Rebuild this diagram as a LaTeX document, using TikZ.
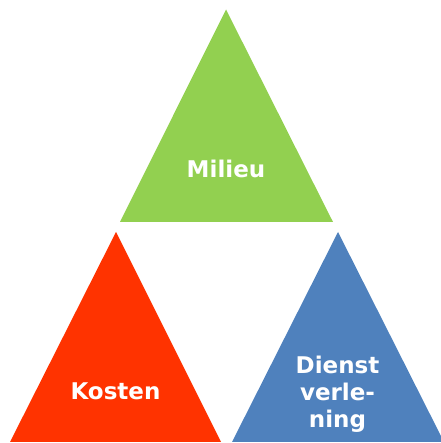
\documentclass[tikz,border=0pt]{standalone}
\usepackage{fontspec}
\setmainfont{DejaVu Sans}
\definecolor{milieugreen}{HTML}{92D050}
\definecolor{kostenred}{HTML}{FF3300}
\definecolor{dienstblue}{HTML}{4F81BD}
\begin{document}
\begin{tikzpicture}[x=1pt,y=1pt,
  tri/.style={draw=none},
  lbl/.style={text=white,font=\fontsize{23}{27}\selectfont\bfseries,inner sep=0pt,align=center}]
\useasboundingbox (0,0) rectangle (440,443);
% green triangle
\fill[milieugreen] (226,433.5) -- (333,221) -- (120,221) -- cycle;
% red triangle
\fill[kostenred] (116,211) -- (221,1) -- (10,1) -- cycle;
% blue triangle
\fill[dienstblue] (338,211) -- (444,1) -- (232,1) -- cycle;
\node[lbl,anchor=base] (milieu) at (226,265) {Milieu};
\node[lbl,anchor=base] (kosten) at (115.5,43) {Kosten};
\node[lbl] (dienst) at (337.5,48.3) {Dienst\\verle-\\ning};
\end{tikzpicture}
\end{document}
